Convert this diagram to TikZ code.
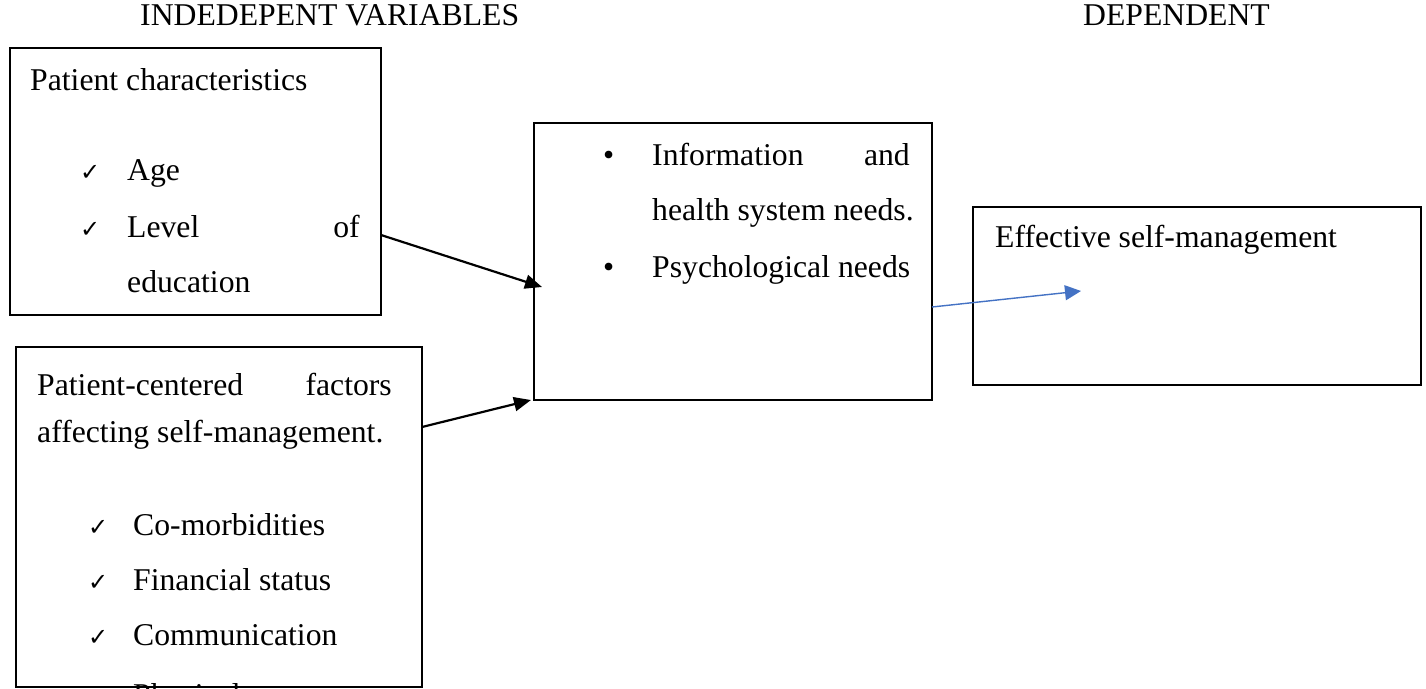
\documentclass[tikz,border=0pt]{standalone}
\usepackage{fontspec}
\setmainfont{Liberation Serif}
\newfontfamily\symf{DejaVu Sans}
\usetikzlibrary{arrows.meta}
\newcommand\fsz{\fontsize{31.7}{38}\selectfont}
\newcommand\ck{{\symf\bfseries\fontsize{24}{28}\selectfont ✓}}
\definecolor{arrblue}{HTML}{4472C4}
\begin{document}
\begin{tikzpicture}[x=1pt,y=-1pt,
  box/.style={draw=black, line width=2.3pt, rectangle, inner sep=0pt, outer sep=0pt},
  txt/.style={anchor=base west, inner sep=0pt, font=\fsz},
  txtr/.style={anchor=base east, inner sep=0pt, font=\fsz},
  chk/.style={anchor=base west, inner sep=0pt},
  arr/.style={line width=2.2pt, -{Triangle[length=17pt,width=14pt]}},
  barr/.style={line width=1.4pt, draw=arrblue, -{Triangle[length=16pt,width=15pt]}, arrblue}]
\clip (0,0) rectangle (1426,688);
\fill[white] (0,0) rectangle (1426,688);
% titles
\node[txt] (tl) at (140,25) {INDEDEPENT VARIABLES};
\node[txt] (tr) at (1083,25) {DEPENDENT};
% box 1 text
\node[txt] (p1) at (30,90) {Patient characteristics};
\node[chk] (c1) at (80,180) {\ck};
\node[txt] (t1) at (127,180) {Age};
\node[chk] (c2) at (80,237) {\ck};
\node[txt] (t2) at (127,237) {Level};
\node[txtr] (t2b) at (360,237) {of};
\node[txt] (t3) at (127,292) {education};
% box 2 text
\node[txt] (p2) at (37,395) {Patient-centered};
\node[txtr] (p2b) at (392,395) {factors};
\node[txt] (p3) at (37,442) {affecting self-management.};
\node[chk] (c4) at (88,535) {\ck};
\node[txt] (t4) at (133,535) {Co-morbidities};
\node[chk] (c5) at (88,590) {\ck};
\node[txt] (t5) at (133,590) {Financial status};
\node[chk] (c6) at (88,645) {\ck};
\node[txt] (t6) at (133,645) {Communication};
\node[chk] (c7) at (88,705) {\ck};
\node[txt] (t7) at (133,705) {Physical};
% box 3 text
\node[txt] (b1) at (603,165) {•};
\node[txt] (m1) at (652,165) {Information};
\node[txtr] (m1b) at (910,165) {and};
\node[txt] (m2) at (652,220) {health system needs.};
\node[txt] (b2) at (603,277) {•};
\node[txt] (m3) at (652,277) {Psychological needs};
% box 4 text
\node[txt] (e1) at (995,247) {Effective self-management};
% boxes
\node[box, minimum width=371pt, minimum height=267pt] (box1) at (195.5,181.5) {};
\node[box, minimum width=406pt, minimum height=340pt] (box2) at (219,517) {};
\node[box, minimum width=398pt, minimum height=277pt] (box3) at (733,261.5) {};
\node[box, minimum width=448pt, minimum height=178pt] (box4) at (1197,296) {};
% connector anchors
\coordinate (s1) at (box1.east |- 0,235);
\coordinate (e1a) at (542,287);
\coordinate (s2) at (box2.east |- 0,427);
\coordinate (e2a) at (531,400);
\coordinate (s3) at (box3.east |- 0,307);
\coordinate (e3a) at (1081,291);
\draw[arr] (s1) -- (e1a);
\draw[arr] (s2) -- (e2a);
\draw[barr] (s3) -- (e3a);
\end{tikzpicture}
\end{document}
